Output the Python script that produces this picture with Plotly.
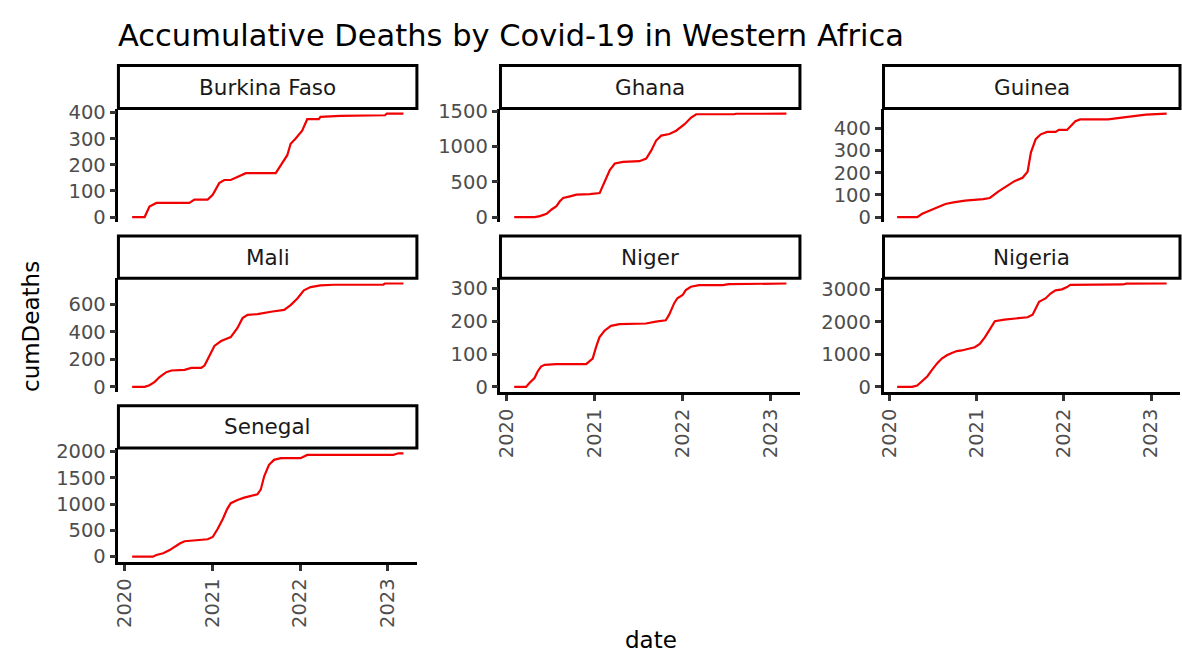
import pandas as pd
import plotly.graph_objects as go

# ---- data: cumulative Covid-19 deaths per country ----
countries = ["Burkina Faso", "Ghana", "Guinea", "Mali", "Niger", "Nigeria", "Senegal"]

bf_dates = ["2020-02-03", "2020-03-26", "2020-04-15", "2020-05-14", "2020-09-28", "2020-10-19",
            "2020-12-13", "2021-01-03", "2021-01-30", "2021-02-20", "2021-03-19", "2021-04-23",
            "2021-05-21", "2021-09-22", "2021-10-12", "2021-11-09", "2021-11-23", "2021-12-13",
            "2022-01-10", "2022-01-31", "2022-03-20", "2022-03-27", "2022-06-17", "2022-12-20",
            "2022-12-28", "2023-03-07"]
bf_deaths = [0, 0, 40, 54, 54, 67, 67, 85, 130, 142, 142, 155, 168, 168, 199, 237, 281, 300,
             331, 375, 375, 384, 388, 390, 396, 396]

ghana_dates = ["2020-02-03", "2020-04-28", "2020-05-19", "2020-06-16", "2020-07-07", "2020-07-27",
               "2020-08-10", "2020-08-24", "2020-09-21", "2020-10-18", "2020-12-12", "2021-01-22",
               "2021-02-12", "2021-03-05", "2021-03-26", "2021-04-29", "2021-07-06", "2021-08-03",
               "2021-08-24", "2021-09-13", "2021-10-04", "2021-11-07", "2021-12-05", "2022-01-09",
               "2022-02-05", "2022-02-26", "2022-08-03", "2022-08-10", "2023-03-07"]
ghana_deaths = [0, 0, 14, 46, 107, 153, 223, 269, 293, 316, 325, 339, 502, 664, 757, 780, 790,
                827, 943, 1082, 1152, 1175, 1221, 1314, 1407, 1454, 1454, 1461, 1462]

guinea_dates = ["2020-02-03", "2020-04-27", "2020-05-18", "2020-06-15", "2020-07-12", "2020-08-23",
                "2020-09-26", "2020-11-13", "2021-01-28", "2021-02-25", "2021-04-01", "2021-05-05",
                "2021-06-08", "2021-07-12", "2021-08-02", "2021-08-16", "2021-09-05", "2021-09-26",
                "2021-10-23", "2021-11-27", "2021-12-11", "2022-01-14", "2022-02-18", "2022-03-10",
                "2022-07-05", "2022-08-23", "2022-10-17", "2022-12-10", "2023-03-07"]
guinea_deaths = [0, 0, 15, 27, 41, 59, 66, 74, 81, 86, 115, 137, 162, 177, 204, 292, 351, 373,
                 384, 384, 393, 393, 432, 440, 440, 447, 455, 462, 466]

mali_dates = ["2020-02-03", "2020-03-26", "2020-04-15", "2020-05-07", "2020-05-27", "2020-06-24",
              "2020-07-15", "2020-09-08", "2020-10-06", "2020-11-16", "2020-11-30", "2020-12-20",
              "2021-01-10", "2021-02-07", "2021-03-19", "2021-04-16", "2021-05-07", "2021-05-28",
              "2021-07-08", "2021-09-09", "2021-10-27", "2021-11-23", "2021-12-21", "2022-01-17",
              "2022-02-14", "2022-03-27", "2022-05-21", "2022-12-13", "2022-12-20", "2023-03-07"]
mali_deaths = [0, 0, 12, 36, 71, 107, 119, 124, 138, 138, 155, 226, 298, 333, 362, 429, 500, 524,
               529, 548, 560, 595, 643, 702, 726, 738, 743, 743, 752, 752]

niger_dates = ["2020-02-03", "2020-03-23", "2020-04-06", "2020-04-27", "2020-05-10", "2020-05-24",
               "2020-06-08", "2020-07-26", "2020-11-27", "2020-12-10", "2020-12-24", "2021-01-07",
               "2021-01-21", "2021-02-11", "2021-03-10", "2021-04-14", "2021-08-02", "2021-09-12",
               "2021-10-23", "2021-11-06", "2021-11-27", "2021-12-10", "2022-01-01", "2022-01-14",
               "2022-02-04", "2022-03-10", "2022-06-15", "2022-07-12", "2022-12-24", "2023-01-21",
               "2023-03-07"]
niger_deaths = [0, 0, 12, 27, 47, 62, 67, 69, 69, 76, 86, 121, 151, 171, 186, 191, 193, 199, 203,
                220, 255, 270, 280, 295, 305, 310, 310, 313, 313, 315, 315]

nigeria_dates = ["2020-02-03", "2020-04-06", "2020-04-27", "2020-05-18", "2020-06-08", "2020-06-28",
                 "2020-07-19", "2020-08-08", "2020-08-29", "2020-09-19", "2020-10-10", "2020-10-30",
                 "2020-11-27", "2020-12-24", "2021-01-14", "2021-02-04", "2021-02-25", "2021-03-18",
                 "2021-04-27", "2021-06-08", "2021-08-02", "2021-08-23", "2021-09-05", "2021-09-19",
                 "2021-10-16", "2021-11-06", "2021-11-27", "2021-12-24", "2022-01-14", "2022-01-28",
                 "2022-09-05", "2022-09-19", "2023-03-07"]
nigeria_deaths = [0, 0, 40, 170, 320, 520, 720, 870, 970, 1040, 1100, 1120, 1170, 1220, 1320, 1520,
                  1770, 2020, 2070, 2100, 2140, 2220, 2420, 2620, 2720, 2870, 2970, 3000, 3070, 3140,
                  3150, 3175, 3180]

senegal_dates = ["2020-02-03", "2020-04-29", "2020-05-14", "2020-06-11", "2020-07-08", "2020-07-29",
                 "2020-08-19", "2020-09-08", "2020-10-19", "2020-11-16", "2020-12-13", "2021-01-03",
                 "2021-01-24", "2021-02-14", "2021-03-04", "2021-03-19", "2021-04-16", "2021-05-14",
                 "2021-06-18", "2021-07-08", "2021-07-22", "2021-08-05", "2021-08-25", "2021-09-15",
                 "2021-10-13", "2022-01-03", "2022-01-31", "2023-01-24", "2023-02-14", "2023-03-07"]
senegal_deaths = [0, 0, 31, 63, 125, 188, 250, 294, 313, 331, 331, 375, 531, 719, 906, 1019, 1081,
                  1125, 1156, 1188, 1281, 1531, 1750, 1844, 1875, 1875, 1938, 1938, 1969, 1969]

y_tick_steps = [100, 500, 100, 200, 100, 1000, 500]
x_tick_years = ["2020-01-01", "2021-01-01", "2022-01-01", "2023-01-01"]

series = [
    (bf_dates, bf_deaths), (ghana_dates, ghana_deaths), (guinea_dates, guinea_deaths),
    (mali_dates, mali_deaths), (niger_dates, niger_deaths), (nigeria_dates, nigeria_deaths),
    (senegal_dates, senegal_deaths),
]

# ---- facet geometry (pixels) ----
W, H = 1182, 662
col_left = [113, 497, 882]
col_right = [413, 798, 1180]
strip_top = [58, 232.5, 406.5]
panel_top = [102, 276, 450]
panel_bottom = [218.5, 392.5, 566.5]

FONT = "DejaVu Sans"
LINE_RED = "#F00000"
TICK_FONT = dict(family=FONT, size=19.5, color="#4D4D4D")

# shared x range with 5% expansion on each side
all_dates = pd.to_datetime([d for ds, _ in series for d in ds])
x_min, x_max = all_dates.min(), all_dates.max()
pad = (x_max - x_min) * 0.05
x_range = [(x_min - pad).strftime("%Y-%m-%d"), (x_max + pad).strftime("%Y-%m-%d")]

fig = go.Figure()
layout = dict(
    width=W, height=H, autosize=False,
    margin=dict(l=0, r=0, t=0, b=0),
    paper_bgcolor="white", plot_bgcolor="white",
    showlegend=False,
    shapes=[], annotations=[],
)

# panels whose x-axis is drawn (bottom of each column)
x_axis_panels = {4, 5, 6}

for i, (name, (dates, deaths)) in enumerate(zip(countries, series)):
    k = i + 1
    row, col = divmod(i, 3)
    xa, ya = f"xaxis{k}", f"yaxis{k}"
    xr, yr = f"x{k}", f"y{k}"

    fig.add_trace(go.Scatter(
        x=pd.to_datetime(dates), y=deaths, mode="lines",
        line=dict(color=LINE_RED, width=2.2),
        xaxis=xr, yaxis=yr, hoverinfo="skip",
    ))

    y_lo, y_hi = min(deaths), max(deaths)
    y_pad = (y_hi - y_lo) * 0.05

    layout[xa] = dict(
        domain=[col_left[col] / W, col_right[col] / W],
        anchor=yr, type="date", range=x_range,
        showgrid=False, zeroline=False,
        visible=i in x_axis_panels,
        showline=True, linecolor="black", linewidth=2.5,
        ticks="outside", ticklen=6, tickwidth=2.5, tickcolor="#333333",
        tickvals=x_tick_years, tickformat="%Y", tickangle=-90,
        tickfont=TICK_FONT,
    )
    layout[ya] = dict(
        domain=[1 - panel_bottom[row] / H, 1 - panel_top[row] / H],
        anchor=xr, range=[y_lo - y_pad, y_hi + y_pad],
        showgrid=False, zeroline=False,
        showline=True, linecolor="black", linewidth=2.5,
        ticks="outside", ticklen=6, tickwidth=2.5, tickcolor="#333333",
        tick0=0, dtick=y_tick_steps[i],
        tickfont=TICK_FONT,
    )

    # facet strip
    layout["shapes"].append(dict(
        type="rect", xref="paper", yref="paper", layer="above",
        x0=col_left[col] / W, x1=col_right[col] / W,
        y0=1 - panel_top[row] / H, y1=1 - strip_top[row] / H,
        line=dict(color="black", width=3), fillcolor="white",
    ))
    layout["annotations"].append(dict(
        text=name, xref="paper", yref="paper", showarrow=False,
        x=(col_left[col] + col_right[col]) / 2 / W,
        y=1 - (strip_top[row] + panel_top[row]) / 2 / H,
        xanchor="center", yanchor="middle",
        font=dict(family=FONT, size=21.5, color="#1A1A1A"),
    ))

# title and axis titles
layout["annotations"] += [
    dict(text="Accumulative Deaths by Covid-19 in Western Africa", xref="paper", yref="paper",
         x=111 / W, y=1 - 27 / H, xanchor="left", yanchor="middle", showarrow=False,
         font=dict(family=FONT, size=30.5, color="black")),
    dict(text="cumDeaths", xref="paper", yref="paper", x=25 / W, y=1 - 325 / H,
         xanchor="center", yanchor="middle", textangle=-90, showarrow=False,
         font=dict(family=FONT, size=23, color="black")),
    dict(text="date", xref="paper", yref="paper", x=648 / W, y=1 - 647 / H,
         xanchor="center", yanchor="middle", showarrow=False,
         font=dict(family=FONT, size=23, color="black")),
]

fig.update_layout(layout)
fig.write_html("out.html", config={"displayModeBar": False})
